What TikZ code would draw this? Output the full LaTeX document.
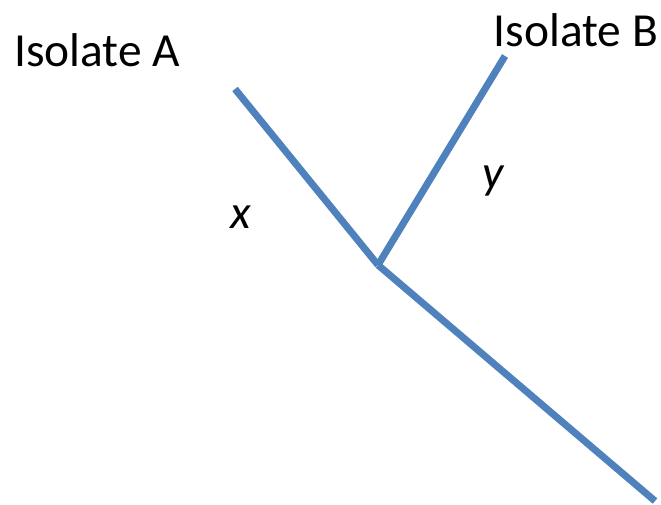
\documentclass[tikz,border=0pt]{standalone}
\usepackage{fontspec}
\setmainfont{Carlito}
\usetikzlibrary{positioning}
\definecolor{treeblue}{HTML}{4F81BD}

\begin{document}
\begin{tikzpicture}[
    x=0.02cm, y=-0.02cm,
    branch/.style={draw=treeblue, line width=4pt},
    isolate/.style={font=\fontsize{27}{32}\selectfont, inner sep=0pt},
    brlen/.style={font=\fontsize{27}{32}\selectfont\itshape, inner sep=0pt}
]
\useasboundingbox (0,0) rectangle (661,504);

% === Tree points ===
\coordinate (tipA) at (235,89);
\coordinate (tipB) at (505,56);
\coordinate (root) at (378,265);
\coordinate (base) at (655,501);

% === Labels ===
\node[isolate] (labelA) at (97,50) {Isolate A};
\node[isolate] (labelB) at (576,30) {Isolate B};
\node[brlen] (lenx) at (241,217) {x};
\node[brlen] (leny) at (493,181) {y};

% === Branches ===
\draw[branch] (tipA) -- (root);
\draw[branch] (tipB) -- (root);
\draw[branch] (root) -- (base);

\end{tikzpicture}
\end{document}
